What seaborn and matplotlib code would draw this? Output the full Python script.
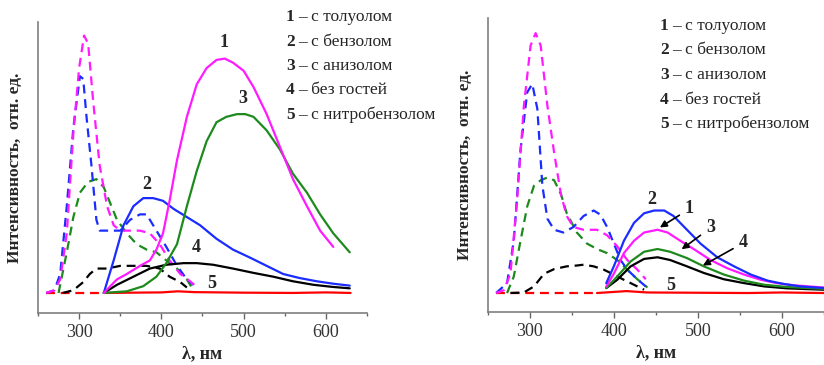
import numpy as np
import matplotlib
matplotlib.use("Agg")
import matplotlib.pyplot as plt
from matplotlib.ticker import MultipleLocator
import seaborn as sns

sns.set_theme(style="white")
plt.rcParams['font.family'] = ['Liberation Serif', 'DejaVu Serif']

# ---------------- data: left panel ----------------
# excitation (dashed)
l_tol_exc_x = [260, 270, 277, 285, 293, 300, 306, 311, 317, 325, 334, 342, 350, 362, 374, 386, 398, 410, 423, 432, 440]
l_tol_exc_y = [0, 1, 5, 22, 59, 83, 95, 92, 71, 47, 32, 25, 23, 23, 23, 22, 18, 12, 7, 5, 3]
l_ben_exc_x = [260, 270, 277, 285, 293, 301, 305, 309, 315, 321, 325, 338, 350, 362, 374, 382, 394, 406, 419, 431, 439]
l_ben_exc_y = [0, 1, 7, 32, 61, 80, 79, 65, 47, 27, 23, 23, 23, 27, 29, 29, 23, 17, 10, 5, 3]
l_ani_exc_x = [275, 285, 293, 301, 311, 321, 330, 338, 346, 358, 370, 382, 394, 406, 419, 431, 437]
l_ani_exc_y = [0, 15, 28, 37, 41, 42, 39, 33, 27, 22, 18, 16, 15, 12, 9, 5, 2]
l_non_exc_x = [280, 293, 305, 313, 321, 334, 350, 366, 382, 398, 410, 423, 431]
l_non_exc_y = [0, 1, 4, 7, 9, 9, 10, 10, 10, 9, 6, 4, 2]
l_nit_exc_x = [260, 330]
l_nit_exc_y = [0, 0]
# emission (solid)
l_tol_em_x = [330, 346, 358, 374, 386, 394, 402, 410, 419, 431, 443, 455, 467, 477, 487, 500, 512, 528, 544, 560, 577, 593, 609]
l_tol_em_y = [0, 5, 7, 10, 12, 16, 22, 34, 49, 65, 77, 83, 86, 86.5, 85, 82, 76, 66, 54, 42, 32, 23, 17]
l_ben_em_x = [330, 342, 354, 366, 378, 390, 402, 415, 431, 447, 467, 487, 508, 528, 548, 568, 589, 609, 629]
l_ben_em_y = [0, 12, 25, 32, 35, 35, 34, 31, 28, 25, 20, 16, 13, 10, 7, 5.5, 4.3, 3.4, 2.7]
l_ani_em_x = [330, 358, 378, 394, 406, 419, 431, 443, 455, 467, 479, 492, 502, 512, 528, 544, 560, 577, 593, 609, 629]
l_ani_em_y = [0, 0.6, 2.5, 6, 11, 18, 32, 45, 56, 63, 65, 66, 66, 65, 60, 53, 44, 37, 29, 22, 15]
l_non_em_x = [330, 346, 366, 386, 406, 427, 443, 463, 487, 512, 536, 560, 585, 609, 629]
l_non_em_y = [0, 3, 6, 9, 10.4, 11, 11, 10.4, 9, 7.4, 6, 4.3, 3, 2.2, 1.7]
l_nit_em_x = [330, 400, 420, 440, 500, 560, 600, 630]
l_nit_em_y = [0, 0.2, 0.6, 0.3, 0.1, 0, 0.2, 0]

# ---------------- data: right panel ----------------
r_tol_exc_x = [260, 269, 277, 285, 293, 301, 307, 313, 321, 329, 337, 344, 352, 364, 380, 392, 404, 416, 428, 438]
r_tol_exc_y = [0, 1, 7, 34, 68, 90, 94.5, 90, 68, 51, 36, 28, 24, 23, 23, 21, 17, 12, 8.5, 5]
r_ben_exc_x = [260, 273, 281, 289, 297, 303, 309, 315, 321, 329, 340, 352, 364, 376, 384, 392, 400, 408, 416, 428, 438]
r_ben_exc_y = [0, 3.6, 19, 52, 73, 76, 67, 39, 27, 23, 22, 24, 28, 30, 28.5, 24, 18, 12, 8.5, 5, 2.4]
r_ani_exc_x = [273, 281, 289, 297, 305, 313, 321, 329, 337, 344, 356, 368, 380, 392, 404, 416, 428, 440]
r_ani_exc_y = [0, 6, 19, 31.5, 39, 41, 42, 41, 36, 29, 22, 18, 16, 14.5, 12, 8.5, 5, 2]
r_non_exc_x = [277, 293, 305, 317, 329, 344, 356, 364, 376, 388, 400, 412, 424, 436]
r_non_exc_y = [0, 0.2, 2.4, 7, 8.7, 9.7, 10, 10.3, 9.7, 8.5, 6.7, 4.8, 3, 1.2]
r_nit_exc_x = [260, 380]
r_nit_exc_y = [0, 0]
r_tol_em_x = [391, 400, 412, 424, 436, 452, 464, 479, 495, 515, 535, 555, 575, 594, 614, 650]
r_tol_em_y = [2.4, 7, 14.5, 19, 22, 23, 22, 19, 16, 12, 9, 6.7, 4.8, 3.6, 2.8, 2]
r_ben_em_x = [391, 400, 412, 424, 436, 448, 460, 471, 487, 503, 523, 543, 563, 583, 602, 622, 650]
r_ben_em_y = [3.6, 9.7, 19, 25.5, 29, 30, 30, 28, 23, 18, 13, 9.7, 6.7, 4.5, 3.3, 2.4, 1.8]
r_ani_em_x = [391, 404, 420, 436, 452, 467, 487, 507, 531, 555, 579, 606, 650]
r_ani_em_y = [1.8, 6, 11.5, 15, 16, 15, 12.7, 9.7, 6.7, 4.5, 3, 2.2, 1.5]
r_non_em_x = [391, 404, 420, 436, 452, 467, 487, 507, 531, 555, 579, 606, 650]
r_non_em_y = [1.8, 4.8, 9.7, 12.4, 13, 12, 9.7, 7.3, 5, 3.6, 2.4, 1.7, 1.2]
r_nit_em_x = [380, 400, 415, 425, 440, 500, 560, 600, 650]
r_nit_em_y = [0, 0.4, 0.7, 0.5, 0.2, 0.1, 0, 0.2, 0]

legend_nums = ["1", "2", "3", "4", "5"]
legend_text = ["– с толуолом", "– с бензолом", "– с анизолом", "– без гостей", "– с нитробензолом"]

c_tol, c_ben, c_ani, c_non, c_nit = "#ff1aff", "#1a2cff", "#1e8a1e", "#000000", "#ff0000"
dash = (0, (4, 2.6))


def draw(ax, x, y, color, dashed):
    sns.lineplot(x=x, y=y, ax=ax, color=color, linewidth=1.6, estimator=None,
                 sort=False, linestyle=dash if dashed else '-')


def style_axes(ax, ymin):
    ax.set_xlim(250, 650)
    ax.set_ylim(ymin, 100)
    ax.set_yticks([])
    ax.xaxis.set_major_locator(MultipleLocator(100))
    ax.xaxis.set_minor_locator(MultipleLocator(50))
    ax.tick_params(axis='x', which='major', direction='out', length=4, width=1,
                   color='#666666', labelsize=13, labelcolor='#333333', pad=4, bottom=True)
    ax.tick_params(axis='x', which='minor', direction='out', length=2, width=1,
                   color='#666666', bottom=True)
    for s in ['top', 'right']:
        ax.spines[s].set_visible(False)
    for s in ['left', 'bottom']:
        ax.spines[s].set_color('#7f7f7f')
        ax.spines[s].set_linewidth(1.2)
    ax.set_xlabel("λ, нм", fontsize=13, fontweight='bold', labelpad=3)
    ax.set_ylabel("Интенсивность,  отн. ед.", fontsize=12.5, fontweight='bold')


fig = plt.figure(figsize=(8.24, 3.65), dpi=100)
ax1 = fig.add_axes([0.0461, 0.1425, 0.3993, 0.7972])
ax2 = fig.add_axes([0.5919, 0.1452, 0.4081, 0.8055])

# left panel
draw(ax1, l_nit_exc_x, l_nit_exc_y, c_nit, True)
draw(ax1, l_non_exc_x, l_non_exc_y, c_non, True)
draw(ax1, l_ani_exc_x, l_ani_exc_y, c_ani, True)
draw(ax1, l_ben_exc_x, l_ben_exc_y, c_ben, True)
draw(ax1, l_tol_exc_x, l_tol_exc_y, c_tol, True)
draw(ax1, l_nit_em_x, l_nit_em_y, c_nit, False)
draw(ax1, l_non_em_x, l_non_em_y, c_non, False)
draw(ax1, l_ben_em_x, l_ben_em_y, c_ben, False)
draw(ax1, l_ani_em_x, l_ani_em_y, c_ani, False)
draw(ax1, l_tol_em_x, l_tol_em_y, c_tol, False)
style_axes(ax1, -7.4)
ax1.yaxis.set_label_coords(-0.045, 0.5)

lab = dict(fontsize=13, fontweight='bold', ha='center', va='center')
ax1.text(475.6, 92.6, "1", **lab)
ax1.text(381.7, 39.9, "2", **lab)
ax1.text(498.8, 71.6, "3", **lab)
ax1.text(442.7, 16.6, "4", **lab)
ax1.text(461, 3.3, "5", **lab)

# right panel
draw(ax2, r_nit_exc_x, r_nit_exc_y, c_nit, True)
draw(ax2, r_non_exc_x, r_non_exc_y, c_non, True)
draw(ax2, r_ani_exc_x, r_ani_exc_y, c_ani, True)
draw(ax2, r_ben_exc_x, r_ben_exc_y, c_ben, True)
draw(ax2, r_tol_exc_x, r_tol_exc_y, c_tol, True)
draw(ax2, r_nit_em_x, r_nit_em_y, c_nit, False)
draw(ax2, r_non_em_x, r_non_em_y, c_non, False)
draw(ax2, r_ani_em_x, r_ani_em_y, c_ani, False)
draw(ax2, r_tol_em_x, r_tol_em_y, c_tol, False)
draw(ax2, r_ben_em_x, r_ben_em_y, c_ben, False)
style_axes(ax2, -6.9)
ax2.yaxis.set_label_coords(-0.045, 0.5)

arr = dict(arrowstyle='-|>', color='black', lw=1.2, mutation_scale=10)
ax2.text(444.9, 33.9, "2", **lab)
ax2.annotate("1", xy=(452, 23.3), xytext=(490, 30.6), arrowprops=arr, **lab)
ax2.annotate("3", xy=(478, 15.3), xytext=(515, 23.7), arrowprops=arr, **lab)
ax2.annotate("4", xy=(503, 9.5), xytext=(554, 18.2), arrowprops=arr, **lab)
ax2.text(467.5, 2.9, "5", **lab)

# legends as text blocks
for i, (n, t) in enumerate(zip(legend_nums, legend_text)):
    for x0, y0 in [(286, 17 + i * 24.5), (660, 26 + i * 24.5)]:
        fig.text(x0 / 824, 1 - y0 / 365, n, fontsize=12.5, fontweight='bold', ha='left', va='center')
        fig.text((x0 + 12) / 824, 1 - y0 / 365, t, fontsize=12.5, ha='left', va='center')

fig.savefig("out.png", dpi=100)
